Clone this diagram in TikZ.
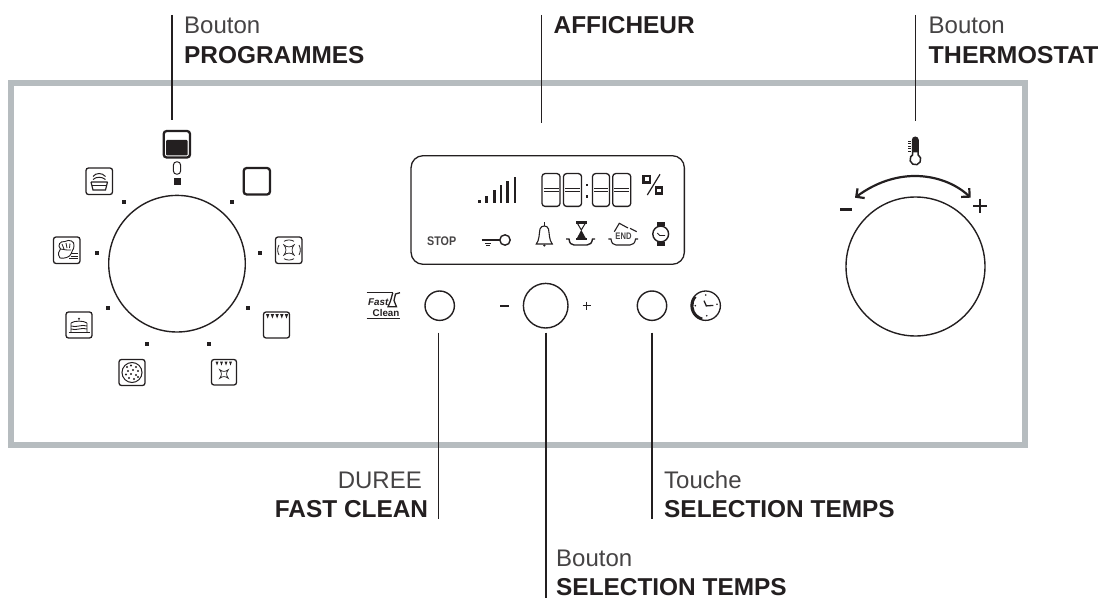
\documentclass[tikz,border=0pt]{standalone}
\usepackage{fontspec}
\setmainfont{Liberation Sans}
\usetikzlibrary{arrows.meta}
\definecolor{ink}{HTML}{231F20}
\definecolor{softink}{HTML}{454344}
\definecolor{frame}{HTML}{B6BCBF}
\tikzset{
  leader/.style={draw=ink,line width=1.9},
  reg/.style={font=\fontsize{24}{28}\selectfont,text=softink,inner sep=0,anchor=base west},
  bld/.style={font=\fontsize{24.4}{28}\bfseries\selectfont,text=ink,inner sep=0,anchor=base west},
  knob/.style={draw=ink,circle,inner sep=0,line width=1.4,fill=white},
  iconbox/.style={draw=ink,rounded corners=2.5,line width=1.3},
  thick box/.style={draw=ink,rounded corners=3,line width=2.3},
  fine/.style={draw=ink,line width=.8},
  lcd/.style={draw=ink,line width=1.3},
}
\newcommand{\segdigit}[2]{%
  \draw[lcd,rounded corners=3] (#1,173.6) rectangle (#1+#2,206.4);
  \draw[lcd,line width=.9] (#1+1.5,188.3) -- (#1+#2-1.5,188.3) (#1+1.5,191.7) -- (#1+#2-1.5,191.7);
}
\newcommand{\fanglyph}[3]{%
  \draw[fine,line width=.7] (#1-#3,#2-#3) .. controls (#1-#3*.3,#2-#3*.45) and (#1+#3*.3,#2-#3*.45) .. (#1+#3,#2-#3)
     .. controls (#1+#3*.45,#2-#3*.3) and (#1+#3*.45,#2+#3*.3) .. (#1+#3,#2+#3)
     .. controls (#1+#3*.3,#2+#3*.45) and (#1-#3*.3,#2+#3*.45) .. (#1-#3,#2+#3)
     .. controls (#1-#3*.45,#2+#3*.3) and (#1-#3*.45,#2-#3*.3) .. (#1-#3,#2-#3) -- cycle;
}
\begin{document}
\begin{tikzpicture}[x=1pt,y=-1pt]
\useasboundingbox (0,0) rectangle (1104,607);
% panel
\draw[draw=frame,line width=6] (11.3,83) rectangle (1024.5,444.5);

% --- programme selector
\node[knob,minimum size=136.6] (progknob) at (177,263.7) {};
\foreach \p in {(124,201.7),(232,201.7),(97,252.7),(260,252.7),(108,307.7),(248,307.7),(147,343.7),(209,343.7)}
  \fill[ink] \p ++(-2,-2) rectangle ++(4,4);
\fill[ink] (174,178) rectangle (181,185);
\draw[ink,line width=1,rounded corners=3.2] (173.4,161.8) rectangle (180.6,174.2);
% top icon
\draw[thick box] (163.7,131) rectangle (190,157.5);
\fill[ink,rounded corners=1] (166,140) rectangle (187.7,155.3);
% square
\draw[thick box] (243.7,168) rectangle (270,194.5);
% fan ring
\draw[iconbox] (275.5,237) rectangle (302,263.5);
\draw[fine] (299,245) arc (-30:30:10);
\draw[fine] (279,255) arc (150:210:10);
\draw[fine] (284,241.3) arc (240:300:10);
\draw[fine] (294,258.7) arc (60:120:10);
\fanglyph{289}{250}{5.2}
% top heat
\draw[iconbox] (263.5,312) rectangle (289.5,338);
\foreach \x in {266,270.7,275.4,280.1,284.8}
  \fill[ink] (\x,314) -- (\x+3.4,314) -- (\x+1.7,318.5) -- cycle;
% top heat + fan
\draw[iconbox] (211.5,359.5) rectangle (236.5,385);
\foreach \x in {215.5,220,224.5,229}
  \fill[ink] (\x,361.5) -- (\x+3,361.5) -- (\x+1.5,365.5) -- cycle;
\fanglyph{224}{374}{4.4}
% pizza
\draw[iconbox] (119,359.5) rectangle (145,385.5);
\draw[fine,line width=1] (132,372.5) circle (10);
\foreach \p in {(127,367),(131,365.5),(136,367),(128,371),(133,370),(138,371),(126,374.5),(131,374),(136,375),(129,378),(134,379),(138,377)}
  \fill[ink] \p circle (1.05);
% cake
\draw[iconbox] (66,312) rectangle (92,338);
\draw[fine,line width=.9] (71,323) -- (71,332) (87,323) -- (87,332) (71,323) .. controls (74,320.5) and (84,320.5) .. (87,323);
\draw[fine,line width=.9] (71,326) .. controls (76,328) and (82,324) .. (87,326);
\draw[fine,line width=.9] (71,329) .. controls (76,331) and (82,327) .. (87,329);
\draw[ink,line width=1.2] (68.5,332.5) -- (89.5,332.5);
\fill[ink] (79,318.7) circle (1.2);
% bread
\draw[iconbox] (53.5,237) rectangle (80,263.5);
\draw[fine,line width=.9] (60,258) .. controls (57,254) and (59,251) .. (60.5,249) .. controls (57,245) and (60,241) .. (65,241.5) .. controls (69,239) and (75,241) .. (74,246) .. controls (74,250) and (71,251) .. (71,254) .. controls (70,257) and (64,259) .. (60,258);
\draw[fine] (62,244) -- (64,249) (66,243) -- (67,248) (70,243.5) -- (69.5,248) (60.5,249) .. controls (64,250) and (68,250) .. (71,250);
\draw[fine] (71,253) -- (78,253) (70.5,256) -- (78,256) (69,258.5) -- (78,258.5);
% tray
\draw[iconbox] (86,168) rectangle (112.5,194.5);
\draw[fine,line width=1] (93,176.5) .. controls (96,172.5) and (102,172.5) .. (105.5,176.5);
\draw[fine,line width=1] (93,179.5) .. controls (96,176.5) and (102,176.5) .. (105.5,179.5);
\draw[ink,line width=1.2] (91,182) -- (107.5,182) (91,182) -- (93,190) -- (105.5,190) -- (107.5,182);
\draw[fine] (92,185) -- (106.5,185);

% --- display
\node[draw=ink,line width=1.3,rounded corners=12,minimum width=273.3,minimum height=108.6,inner sep=0] (lcdpanel) at (547.7,210) {};
\foreach \x/\t in {486.7/7.7,494.3/13.3,501/18.3,507.7/22.3,515/26.7}
  \fill[ink] (\x-1.4,203.4-\t) rectangle (\x+1.4,203.4);
\fill[ink] (478,200) rectangle (480.8,203.4);
\segdigit{542}{18}
\segdigit{563.5}{18}
\segdigit{592.5}{17}
\segdigit{612.7}{18}
\fill[ink] (585.5,183.8) rectangle (588,186.3);
\fill[ink] (585.5,195.4) rectangle (588,197.9);
% percent
\draw[ink,line width=2.2] (643.5,176) rectangle (649.7,182.5);
\draw[ink,line width=2.2] (656.3,187.5) rectangle (662.3,193.5);
\draw[ink,line width=1.2] (647.3,195) -- (660,174.3);
% stop, key
\node[font=\fontsize{12.5}{14}\bfseries\selectfont,text=softink,inner sep=0,xscale=.86] (stoptxt) at (441.7,241.3) {STOP};
\draw[ink,line width=1.4] (505,240) circle (5.2);
\draw[ink,line width=2] (481.7,240) -- (499.5,240);
\draw[ink,line width=1.1] (485,243.2) -- (491,243.2) (485.8,245.3) -- (490.2,245.3);
% bell
\draw[ink,line width=1.1] (536.3,244) .. controls (539.5,240) and (539,234) .. (540,229) .. controls (541,225) and (547.5,225) .. (548.5,229) .. controls (549.5,234) and (549,240) .. (552.3,244) -- cycle;
\draw[ink,line width=1.1] (544.3,222.5) -- (544.3,226);
\fill[ink] (544.3,245.5) circle (1.2);
% hourglass + tray
\fill[ink] (576,221) rectangle (586.7,223.7);
\fill[ink] (576,237.7) rectangle (586.7,240.3);
\draw[ink,line width=1] (577.5,223.5) -- (581.3,230) -- (585.2,223.5);
\fill[ink] (577,238) -- (585.7,238) -- (581.3,230) -- cycle;
\draw[ink,line width=1.4] (566,239) -- (569,239) .. controls (569.5,243) and (571,245) .. (574,245) -- (587,245) .. controls (590,245) and (592,243) .. (592.5,239) -- (595,239);
% end
\node[font=\fontsize{9.5}{11}\bfseries\selectfont,text=softink,inner sep=0,xscale=.8] (endtxt) at (623.5,236.7) {END};
\draw[ink,line width=1.1] (614.3,231.7) -- (619.3,223.3) -- (628,228) (630,228.3) -- (636.7,231.7);
\draw[ink,line width=1.1] (608.3,239) -- (611,239) .. controls (611.5,243) and (613,245) .. (616,245) -- (630,245) .. controls (633,245) and (635,243) .. (635.5,239) -- (638,239);
% watch
\draw[ink,line width=1.4] (660.7,234) circle (7.9);
\fill[ink] (656.5,222.3) rectangle (665,226.5);
\fill[ink] (656.5,241.5) rectangle (665,245.7);
\draw[ink,line width=.9] (657.3,233) -- (659.7,235.5) -- (665,235.5);

% --- centre controls
\node[knob,minimum size=29.4] (fastbtn) at (439.7,305.7) {};
\node[knob,minimum size=44.6] (timeknob) at (545.7,305.7) {};
\node[knob,minimum size=29.4] (timebtn) at (652,305.7) {};
\fill[ink] (500,304.6) rectangle (509.3,306.6);
\draw[ink,line width=.7] (582.5,305.7) -- (590.5,305.7) (586.5,301.7) -- (586.5,309.7);
% clock
\draw[ink,line width=1.3] (705.7,305.7) circle (14.7);
\draw[ink,line width=2.4] (695.5,296.7) arc (221:105:13.6);
\draw[ink,line width=1.3] (704,300.7) -- (706.3,305.9) -- (713.3,305.4);
\foreach \p in {(705.7,295),(706.7,315.7),(695.3,305.7),(717,304.3)}
  \fill[ink] \p circle (.9);
% fast clean
\draw[ink,line width=1.2] (366.7,292.7) -- (393,292.7);
\draw[ink,line width=1.3] (392.8,292.7) -- (390.5,301) -- (388,306.8) -- (396.5,306.8) -- (394,300.5) -- (395.5,294) -- (400,292.7);
\node[font=\fontsize{9.8}{11}\bfseries\itshape\selectfont,text=ink,inner sep=0,anchor=base west] (fasttxt) at (368,305.5) {Fast};
\node[font=\fontsize{9.8}{11}\bfseries\selectfont,text=ink,inner sep=0,anchor=base west] (cleantxt) at (372.5,316.8) {Clean};
\draw[ink,line width=1.2] (366.7,318.8) -- (399.5,318.8);

% --- thermostat
\node[knob,minimum size=139] (thermknob) at (915.5,266.5) {};
\draw[ink,line width=1.5] (912.6,154.7) -- (912.6,140) arc (180:360:2.7) -- (918,154.7) arc (-61:241:5.4);
\fill[ink] (912.6,140) arc (180:360:2.7) -- (918,152.5) -- (912.6,152.5) -- cycle;
\foreach \y in {141,143.6,146.2,148.8,151.4}
  \draw[ink,line width=.7] (908,\y) -- (910.5,\y);
\draw[ink,line width=2.2,{Straight Barb[length=6,width=12]}-{Straight Barb[length=6,width=12]}] (855,197.7) .. controls (875,183) and (895,176) .. (915,176) .. controls (935,176) and (955,183) .. (970.7,197.7);
\fill[ink] (840,207.8) rectangle (852,210.6);
\draw[ink,line width=2.4] (973,206) -- (987,206) (980,199) -- (980,213);

% --- leaders
\coordinate (progtop) at (172.3,15); \coordinate (progend) at (172.3,120.5);
\coordinate (afftop) at (541.5,15); \coordinate (affend) at (541.5,123.5);
\coordinate (thermtop) at (915.5,15); \coordinate (thermend) at (915.5,121);
\coordinate (fastend) at (438.5,519); \coordinate (timeend) at (545.7,597.5); \coordinate (selend) at (652,519);
\coordinate (fastst) at (438.5,332.5); \coordinate (timest) at (545.7,332.5); \coordinate (selst) at (652,332.5);
\draw[leader] (progtop) -- (progend);
\draw[leader] (afftop) -- (affend);
\draw[leader] (thermtop) -- (thermend);
\draw[leader] (fastst) -- (fastend);
\draw[leader] (timest) -- (timeend);
\draw[leader] (selst) -- (selend);

% --- labels
\node[reg] (l1) at (184,34) {Bouton};
\node[bld] (l2) at (184,63.7) {PROGRAMMES};
\node[bld] (l3) at (553.5,34) {AFFICHEUR};
\node[reg] (l4) at (928.5,34) {Bouton};
\node[bld,xscale=1.024] (l5) at (928.5,63.7) {THERMOSTAT};
\node[reg,anchor=base east] (l6) at (422,488.3) {DUREE};
\node[bld,anchor=base east] (l7) at (428.3,517.7) {FAST CLEAN};
\node[reg] (l8) at (664,488.3) {Touche};
\node[bld] (l9) at (664,517.7) {SELECTION TEMPS};
\node[reg] (l10) at (556,566) {Bouton};
\node[bld] (l11) at (556,595.7) {SELECTION TEMPS};
\end{tikzpicture}
\end{document}
